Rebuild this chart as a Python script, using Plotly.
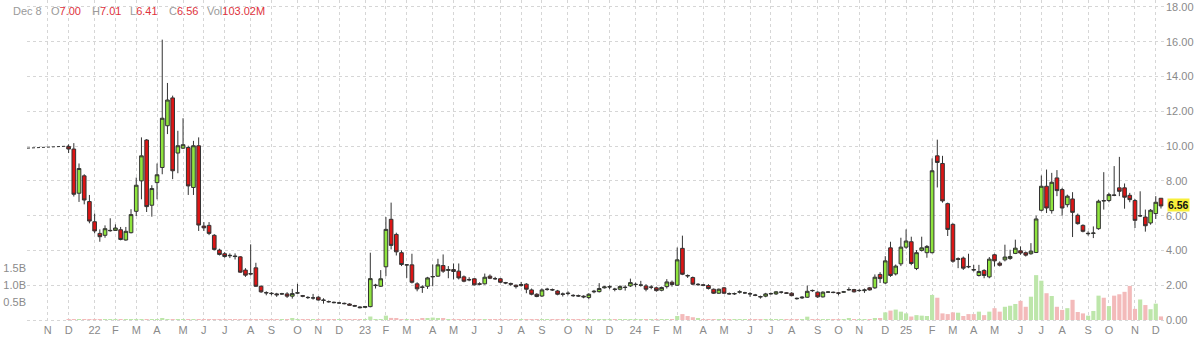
import datetime as dt
import pandas as pd
import plotly.graph_objects as go

# ---------------- data ----------------
first_week = "2021-11-29"   # Monday of first weekly candle
n_weeks = 211

open_ = [9.98, 9.83, 7.29, 8.29, 6.81, 5.65, 4.98, 4.87, 5.13, 5.15,
         5.19, 4.60, 5.02, 6.25, 8.00, 10.35, 6.60, 7.90, 8.77, 11.17,
         12.77, 9.60, 9.88, 9.92, 7.62, 10.02, 5.40, 5.44, 4.87, 4.02,
         3.81, 3.72, 3.68, 3.63, 2.87, 2.67, 3.00, 1.94, 1.58, 1.54,
         1.50, 1.49, 1.50, 1.37, 1.55, 1.40, 1.30, 1.27, 1.31, 1.15,
         1.06, 1.02, 0.98, 0.96, 0.92, 0.83, 0.75, 0.73, 0.77, 1.98,
         1.94, 3.06, 5.79, 4.92, 3.87, 3.17, 3.17, 2.08, 1.90, 1.94,
         2.48, 2.52, 3.13, 2.85, 2.90, 2.81, 2.48, 2.33, 2.37, 2.08,
         2.08, 2.52, 2.38, 2.37, 2.15, 2.10, 2.00, 1.98, 2.06, 1.73,
         1.48, 1.38, 1.75, 1.75, 1.67, 1.50, 1.52, 1.42, 1.40, 1.37,
         1.29, 1.62, 1.63, 1.85, 1.90, 1.78, 1.77, 1.87, 1.96, 2.04,
         2.00, 1.96, 1.88, 1.85, 1.71, 1.92, 2.17, 2.00, 4.12, 2.56,
         2.44, 2.03, 2.02, 1.98, 1.77, 1.54, 1.85, 1.52, 1.50, 1.60,
         1.56, 1.52, 1.44, 1.35, 1.37, 1.50, 1.50, 1.60, 1.56, 1.54,
         1.25, 1.27, 1.31, 1.70, 1.60, 1.33, 1.60, 1.60, 1.56, 1.60,
         1.73, 1.75, 1.69, 1.69, 1.85, 1.85, 2.62, 2.13, 4.15, 2.65,
         3.23, 4.19, 4.50, 2.96, 4.00, 3.87, 3.87, 9.44, 9.00, 6.69,
         5.50, 3.48, 3.56, 3.08, 2.90, 2.56, 2.85, 2.48, 3.75, 3.27,
         3.46, 3.54, 3.83, 3.98, 3.87, 3.81, 3.88, 6.31, 7.69, 6.29,
         8.17, 7.50, 6.63, 6.96, 6.02, 5.44, 4.96, 4.98, 5.25, 6.87,
         6.87, 7.19, 7.60, 7.60, 7.17, 6.87, 5.98, 5.92, 5.58, 6.12,
         7.00]
high = [10.10, 10.17, 9.00, 8.38, 7.19, 6.12, 5.21, 5.44, 5.85, 5.50,
        5.35, 5.35, 6.37, 8.19, 10.50, 10.40, 7.75, 9.00, 16.12, 13.63,
        12.90, 10.88, 11.60, 10.02, 10.30, 10.50, 5.63, 5.63, 4.94, 4.10,
        3.90, 3.83, 3.83, 3.67, 2.98, 4.35, 3.29, 1.98, 1.65, 1.60,
        1.56, 1.56, 1.60, 1.79, 2.08, 1.44, 1.37, 1.50, 1.37, 1.25,
        1.12, 1.06, 1.04, 1.00, 0.96, 0.87, 0.79, 0.81, 3.87, 2.08,
        2.87, 5.92, 6.75, 5.02, 4.00, 3.21, 3.81, 2.17, 2.00, 2.48,
        3.19, 3.52, 3.77, 3.10, 3.25, 3.25, 2.56, 2.46, 2.40, 2.17,
        2.67, 2.62, 2.48, 2.42, 2.19, 2.15, 2.04, 2.19, 2.12, 1.81,
        1.54, 1.81, 1.85, 1.81, 1.73, 1.58, 1.65, 1.48, 1.46, 1.42,
        1.54, 1.73, 2.12, 1.96, 2.00, 1.85, 2.00, 2.00, 2.38, 2.15,
        2.25, 2.06, 2.00, 1.92, 1.92, 2.35, 2.27, 4.17, 4.85, 2.62,
        2.50, 2.12, 2.06, 2.06, 1.81, 1.81, 1.90, 1.58, 1.58, 1.71,
        1.62, 1.60, 1.50, 1.40, 1.56, 1.58, 1.67, 1.65, 1.60, 1.60,
        1.29, 1.37, 1.98, 1.75, 1.65, 1.65, 1.65, 1.63, 1.62, 1.67,
        1.88, 1.79, 1.77, 1.81, 1.90, 2.62, 2.75, 3.67, 4.50, 3.19,
        4.73, 5.21, 4.79, 4.02, 4.79, 4.31, 9.29, 10.37, 9.44, 6.75,
        5.56, 3.60, 3.65, 3.81, 3.17, 3.17, 2.92, 3.62, 3.81, 3.37,
        4.33, 4.04, 4.62, 4.23, 3.94, 4.42, 6.00, 8.31, 8.65, 8.46,
        8.62, 7.60, 7.21, 7.35, 6.12, 5.50, 5.10, 5.38, 6.92, 8.50,
        7.31, 8.85, 9.38, 7.85, 7.31, 6.96, 7.40, 6.35, 6.38, 7.12,
        7.01]
low = [9.60, 7.10, 6.79, 6.65, 5.56, 4.98, 4.50, 4.73, 5.08, 5.12,
       4.58, 4.56, 4.98, 5.98, 6.94, 6.21, 5.94, 6.94, 8.38, 10.69,
       8.10, 8.44, 9.83, 7.19, 7.19, 5.12, 5.12, 4.88, 4.00, 3.71,
       3.58, 3.56, 3.48, 2.71, 2.48, 2.56, 1.90, 1.56, 1.42, 1.42,
       1.33, 1.44, 1.27, 1.23, 1.50, 1.31, 1.21, 1.17, 1.12, 0.94,
       1.00, 0.96, 0.94, 0.90, 0.83, 0.77, 0.67, 0.69, 0.73, 1.81,
       1.90, 2.52, 4.06, 3.71, 3.10, 2.42, 2.10, 1.65, 1.56, 1.79,
       1.94, 2.48, 2.71, 2.40, 2.33, 2.33, 2.17, 2.23, 1.98, 2.00,
       2.04, 2.35, 2.31, 2.12, 2.06, 1.96, 1.81, 1.92, 1.54, 1.42,
       1.31, 1.33, 1.69, 1.67, 1.42, 1.35, 1.42, 1.33, 1.33, 1.25,
       1.19, 1.54, 1.58, 1.81, 1.77, 1.65, 1.71, 1.69, 1.90, 1.88,
       1.92, 1.65, 1.77, 1.63, 1.65, 1.81, 1.92, 1.96, 2.58, 2.42,
       2.00, 1.96, 1.94, 1.75, 1.50, 1.50, 1.50, 1.46, 1.44, 1.52,
       1.50, 1.33, 1.37, 1.23, 1.31, 1.46, 1.44, 1.52, 1.50, 1.37,
       1.17, 1.21, 1.27, 1.62, 1.27, 1.29, 1.56, 1.54, 1.42, 1.56,
       1.69, 1.58, 1.62, 1.56, 1.69, 1.79, 2.13, 2.08, 2.48, 2.56,
       3.10, 4.10, 3.15, 2.87, 3.94, 3.58, 3.83, 7.62, 6.75, 4.83,
       3.29, 2.98, 2.88, 2.98, 2.79, 2.50, 2.40, 2.40, 3.08, 3.08,
       3.37, 3.46, 3.79, 3.75, 3.65, 3.75, 3.85, 6.25, 6.15, 6.12,
       7.12, 6.00, 6.48, 4.77, 5.48, 5.04, 4.85, 4.71, 5.19, 6.35,
       6.77, 7.12, 7.12, 6.40, 6.77, 5.29, 5.92, 5.08, 5.48, 5.81,
       6.41]
close = [9.83, 7.23, 8.71, 6.90, 5.69, 5.12, 4.79, 5.25, 5.15, 5.29,
         4.63, 5.10, 6.06, 7.75, 9.44, 6.52, 7.56, 8.35, 11.60, 12.65,
         8.58, 10.02, 10.08, 7.71, 10.02, 5.46, 5.30, 4.98, 4.06, 3.77,
         3.65, 3.70, 3.65, 2.75, 2.58, 2.65, 1.94, 1.62, 1.56, 1.52,
         1.45, 1.51, 1.37, 1.52, 1.56, 1.37, 1.29, 1.27, 1.15, 1.13,
         1.05, 1.00, 0.98, 0.94, 0.85, 0.80, 0.71, 0.77, 2.38, 2.00,
         2.37, 5.21, 4.29, 3.92, 3.19, 3.17, 2.17, 1.79, 1.88, 2.42,
         2.50, 3.17, 2.81, 2.90, 2.79, 2.42, 2.23, 2.31, 2.02, 2.06,
         2.46, 2.40, 2.37, 2.17, 2.13, 2.06, 1.92, 2.04, 1.77, 1.48,
         1.35, 1.73, 1.77, 1.73, 1.48, 1.48, 1.54, 1.40, 1.38, 1.33,
         1.48, 1.65, 1.81, 1.90, 1.91, 1.76, 1.92, 1.88, 2.15, 2.05,
         2.01, 1.77, 1.89, 1.69, 1.87, 2.19, 2.04, 3.46, 2.63, 2.54,
         2.06, 2.05, 2.00, 1.81, 1.54, 1.77, 1.54, 1.50, 1.52, 1.62,
         1.56, 1.50, 1.42, 1.33, 1.50, 1.52, 1.62, 1.60, 1.54, 1.40,
         1.23, 1.31, 1.65, 1.69, 1.33, 1.60, 1.61, 1.58, 1.54, 1.62,
         1.75, 1.62, 1.70, 1.73, 1.73, 2.46, 2.38, 3.40, 2.56, 3.10,
         4.19, 4.54, 3.25, 3.87, 4.15, 4.23, 8.58, 9.06, 6.85, 5.21,
         3.38, 3.52, 2.98, 3.06, 2.88, 2.79, 2.56, 3.50, 3.40, 3.15,
         3.62, 3.65, 4.13, 3.85, 3.73, 3.96, 5.81, 7.69, 6.44, 7.92,
         7.44, 6.44, 7.12, 6.19, 5.54, 5.10, 4.98, 5.00, 6.83, 6.85,
         7.21, 7.17, 7.40, 7.06, 6.92, 5.73, 6.00, 5.42, 6.31, 6.77,
         6.56]
volume_m = [10, 25, 15, 12, 10, 8, 8, 8, 6, 6,
            7, 7, 12, 18, 22, 20, 10, 12, 30, 18,
            15, 8, 8, 10, 8, 12, 5, 5, 6, 5,
            4, 4, 4, 6, 5, 8, 8, 6, 5, 5,
            5, 5, 6, 30, 15, 5, 5, 5, 5, 5,
            4, 4, 4, 4, 4, 5, 6, 8, 100, 20,
            25, 125, 60, 30, 15, 10, 15, 12, 40, 35,
            70, 50, 40, 15, 12, 20, 20, 10, 12, 8,
            20, 10, 8, 10, 8, 8, 8, 8, 15, 12,
            8, 15, 8, 6, 10, 6, 8, 5, 5, 6,
            15, 8, 15, 8, 6, 6, 10, 8, 15, 8,
            8, 10, 6, 8, 10, 20, 15, 115, 170, 115,
            80, 40, 15, 12, 15, 10, 12, 8, 8, 10,
            6, 8, 8, 8, 10, 8, 10, 6, 8, 10,
            8, 10, 96, 15, 20, 15, 8, 8, 8, 10,
            30, 15, 10, 12, 25, 40, 50, 220, 270, 300,
            240, 190, 100, 140, 125, 115, 720, 640, 190, 170,
            220, 210, 115, 170, 170, 240, 140, 240, 340, 240,
            380, 410, 460, 550, 380, 670, 1290, 1130, 770, 690,
            380, 290, 340, 580, 230, 190, 125, 260, 700, 640,
            400, 700, 740, 810, 980, 320, 590, 430, 310, 470,
            103.02]

# dashed reference line before the first candle
pre_dates = ["2021-10-04", "2021-10-11", "2021-10-18", "2021-10-25", "2021-11-01",
             "2021-11-08", "2021-11-15", "2021-11-22", "2021-11-29"]
pre_values = [9.88, 9.90, 9.92, 9.93, 9.95, 9.96, 9.98, 9.99, 10.00]

# month ticks (year, month) and their labels
tick_months = [(2021, 11), (2021, 12)] + [(y, m) for y in (2022, 2023, 2024, 2025) for m in range(1, 13)]
tick_text = ["N", "D",
             "22", "F", "M", "A", "M", "J", "J", "A", "S", "O", "N", "D",
             "23", "F", "M", "A", "M", "J", "J", "A", "S", "O", "N", "D",
             "24", "F", "M", "A", "M", "J", "J", "A", "S", "O", "N", "D",
             "25", "F", "M", "A", "M", "J", "J", "A", "S", "O", "N", "D"]

price_ticks = [0, 2, 4, 6, 8, 10, 12, 14, 16, 18]
vol_ticks = [0.5e9, 1.0e9, 1.5e9]
vol_tick_text = ["0.5B", "1.0B", "1.5B"]

# header line: (label, value text, left pixel of the label)
last_label = "Dec 8"
header_items = [("O", f"{open_[-1]:.2f}", 46), ("H", f"{high[-1]:.2f}", 87),
                ("L", f"{low[-1]:.2f}", 125), ("C", f"{close[-1]:.2f}", 164),
                ("Vol", f"{volume_m[-1]:.2f}M", 202)]

# ---------------- build ----------------
dates = pd.date_range(first_week, periods=n_weeks, freq="7D")


def week_tick(y, m):
    d = dt.date(y, m, 1)
    while d.weekday() != 4:  # first Friday of month
        d += dt.timedelta(days=1)
    return (d - dt.timedelta(days=4)).isoformat()


tick_vals = [week_tick(y, m) for y, m in tick_months]

GREEN = "#8fe43e"
RED = "#dd1515"
VGREEN = "#bde6aa"
VRED = "#f3baba"
vol_colors = [VGREEN if c >= o else VRED for o, c in zip(open_, close)]

fig = go.Figure()
fig.add_trace(go.Bar(
    x=dates, y=[v * 1e6 for v in volume_m], marker_color=vol_colors,
    marker_line_width=0, yaxis="y2", showlegend=False, hoverinfo="skip"))
fig.add_trace(go.Scatter(
    x=pre_dates, y=pre_values, mode="lines",
    line=dict(color="#333333", width=1, dash="3px,2px"), showlegend=False))
fig.add_trace(go.Candlestick(
    x=dates, open=open_, high=high, low=low, close=close,
    increasing=dict(fillcolor=GREEN, line=dict(color="#333333", width=1)),
    decreasing=dict(fillcolor=RED, line=dict(color="#333333", width=1)),
    whiskerwidth=0, showlegend=False))

GRID = "#d6d6d6"
FAM = "Arial, Liberation Sans, sans-serif"
AXFONT = dict(family=FAM, size=11, color="#8a8a8a")
PLOT_LEFT = 27

fig.update_layout(
    width=1200, height=342,
    margin=dict(l=PLOT_LEFT, r=35, t=0, b=20),
    paper_bgcolor="white", plot_bgcolor="white",
    boxgap=0.3, boxgroupgap=0.0, bargap=0.2,
    showlegend=False,
    font=AXFONT,
    xaxis=dict(
        type="date", range=["2021-10-04", "2025-12-13 10:00"],
        tickmode="array", tickvals=tick_vals, ticktext=tick_text,
        showgrid=True, gridcolor=GRID, griddash="dot", gridwidth=1,
        ticks="", showline=False, zeroline=False,
        rangeslider=dict(visible=False), tickfont=AXFONT),
    yaxis=dict(
        side="right", range=[-0.115, 18.4],
        tickmode="array", tickvals=price_ticks, tickformat=".2f",
        showgrid=True, gridcolor=GRID, griddash="dot", gridwidth=1,
        zeroline=False, showline=False, ticks="", tickfont=AXFONT),
    yaxis2=dict(
        overlaying="y", side="left", range=[-0.0575e9, 9.2e9],
        tickmode="array", tickvals=vol_ticks, ticktext=vol_tick_text,
        showgrid=False, zeroline=False, showline=False, ticks="", tickfont=AXFONT),
)

# top-left info line
red = "#e0323c"
hdr_font = dict(family=FAM, size=11, color="#9a9a9a")
HDR_NUDGE = 3
fig.add_annotation(xref="paper", yref="paper", x=0, y=1, xshift=8 - PLOT_LEFT + HDR_NUDGE, yshift=-3,
                   xanchor="left", yanchor="top", showarrow=False, text=last_label,
                   font=hdr_font)
for lab, val, px in header_items:
    fig.add_annotation(xref="paper", yref="paper", x=0, y=1, xshift=px - PLOT_LEFT + HDR_NUDGE, yshift=-3,
                       xanchor="left", yanchor="top", showarrow=False,
                       text=f"{lab}<span style='color:{red}'>{val}</span>", font=hdr_font)

# last price marker on right axis
fig.add_annotation(xref="paper", yref="y", x=1, y=close[-1], xshift=2, yshift=1,
                   xanchor="left", yanchor="middle",
                   showarrow=False, text=f"<b>{close[-1]:.2f}</b>", bgcolor="#f7ef3a", borderpad=0,
                   font=dict(family=FAM, size=10.5, color="#111111"))

fig.write_html("out.html")
